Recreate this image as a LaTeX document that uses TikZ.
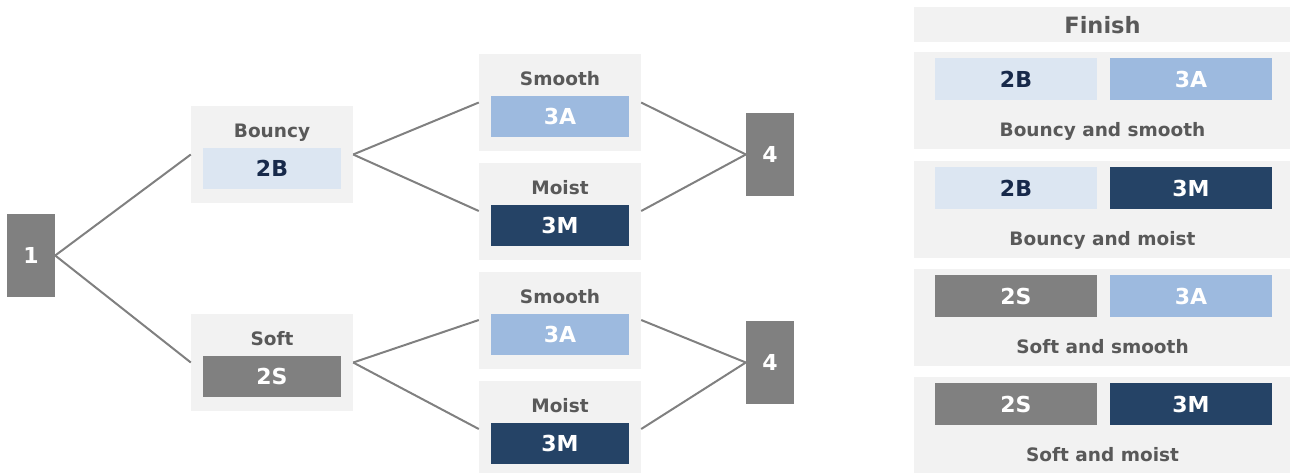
\documentclass[tikz,border=0pt]{standalone}
\usepackage{fontspec}
\setmainfont{DejaVu Sans}
\definecolor{bgc}{HTML}{F2F2F2}
\definecolor{grayc}{HTML}{808080}
\definecolor{lblc}{HTML}{595959}
\definecolor{lightb}{HTML}{DCE6F2}
\definecolor{navytxt}{HTML}{17294A}
\definecolor{midb}{HTML}{9DBADF}
\definecolor{darkb}{HTML}{254366}
\begin{document}
\begin{tikzpicture}[x=1pt,y=-1pt,
  cont/.style={fill=bgc, draw=none, minimum width=162pt, minimum height=97pt, inner sep=0pt},
  card/.style={fill=bgc, draw=none, minimum width=379pt, minimum height=97pt, inner sep=0pt},
  lbl/.style={text=lblc, font=\fontsize{18.5}{20}\selectfont\bfseries, inner sep=0pt, text height=13.5pt, text depth=0pt},
  big/.style={font=\fontsize{22}{24}\selectfont\bfseries, inner sep=0pt, text height=16pt, text depth=0pt},
  inbox/.style={big, minimum width=138pt, minimum height=41pt},
  wbox/.style={big, minimum width=162pt, minimum height=42pt},
  lbA/.style={fill=lightb, text=navytxt},
  lbS/.style={fill=grayc, text=white},
  lb3A/.style={fill=midb, text=white},
  lb3M/.style={fill=darkb, text=white},
  numbox/.style={big, fill=grayc, text=white, minimum width=48pt, minimum height=83pt},
  conn/.style={draw=grayc, line width=2pt}
]
\useasboundingbox (0,0) rectangle (1290,472);

% left tree
\node[numbox] (one) at (31,255.5) {1};

\node[cont] (b) at (272,154.5) {};
\node[lbl] (bl) at (272,131) {Bouncy};
\node[inbox,lbA] (b2) at (272,168.5) {2B};

\node[cont] (s) at (272,362.5) {};
\node[lbl] (sl) at (272,339) {Soft};
\node[inbox,lbS] (s2) at (272,376.5) {2S};

\node[cont] (sm1) at (560,102.5) {};
\node[lbl] (sm1l) at (560,79) {Smooth};
\node[inbox,lb3A] (sm1b) at (560,116.5) {3A};

\node[cont] (mo1) at (560,211) {};
\node[lbl] (mo1l) at (560,187.5) {Moist};
\node[inbox,lb3M] (mo1b) at (560,225.5) {3M};

\node[cont] (sm2) at (560,320) {};
\node[lbl] (sm2l) at (560,296.5) {Smooth};
\node[inbox,lb3A] (sm2b) at (560,334) {3A};

\node[cont] (mo2) at (560,429) {};
\node[lbl] (mo2l) at (560,405.5) {Moist};
\node[inbox,lb3M] (mo2b) at (560,443) {3M};

\node[numbox] (f1) at (770,154.5) {4};
\node[numbox] (f2) at (770,362.5) {4};

\draw[conn] (one.east) -- (b.west);
\draw[conn] (one.east) -- (s.west);
\draw[conn] (b.east) -- (sm1.west);
\draw[conn] (b.east) -- (mo1.west);
\draw[conn] (s.east) -- (sm2.west);
\draw[conn] (s.east) -- (mo2.west);
\draw[conn] (sm1.east) -- (f1.west);
\draw[conn] (mo1.east) -- (f1.west);
\draw[conn] (sm2.east) -- (f2.west);
\draw[conn] (mo2.east) -- (f2.west);

% right panel
\node[card, minimum height=35pt] (fin) at (1103.5,24.5) {};
\node[big, text=lblc, font=\fontsize{22.5}{24}\selectfont\bfseries] (finl) at (1102.5,25) {Finish};

\node[card] (c1) at (1103.5,100.5) {};
\node[wbox,lbA] (c1a) at (1016,79) {2B};
\node[wbox,lb3A] (c1b) at (1191,79) {3A};
\node[lbl] (c1l) at (1102.5,129.5) {Bouncy and smooth};

\node[card] (c2) at (1103.5,209.5) {};
\node[wbox,lbA] (c2a) at (1016,188) {2B};
\node[wbox,lb3M] (c2b) at (1191,188) {3M};
\node[lbl] (c2l) at (1102.5,238.5) {Bouncy and moist};

\node[card] (c3) at (1103.5,317.5) {};
\node[wbox,lbS] (c3a) at (1016,296) {2S};
\node[wbox,lb3A] (c3b) at (1191,296) {3A};
\node[lbl] (c3l) at (1102.5,346.5) {Soft and smooth};

\node[card] (c4) at (1103.5,425.5) {};
\node[wbox,lbS] (c4a) at (1016,404) {2S};
\node[wbox,lb3M] (c4b) at (1191,404) {3M};
\node[lbl] (c4l) at (1102.5,454.5) {Soft and moist};
\end{tikzpicture}
\end{document}
